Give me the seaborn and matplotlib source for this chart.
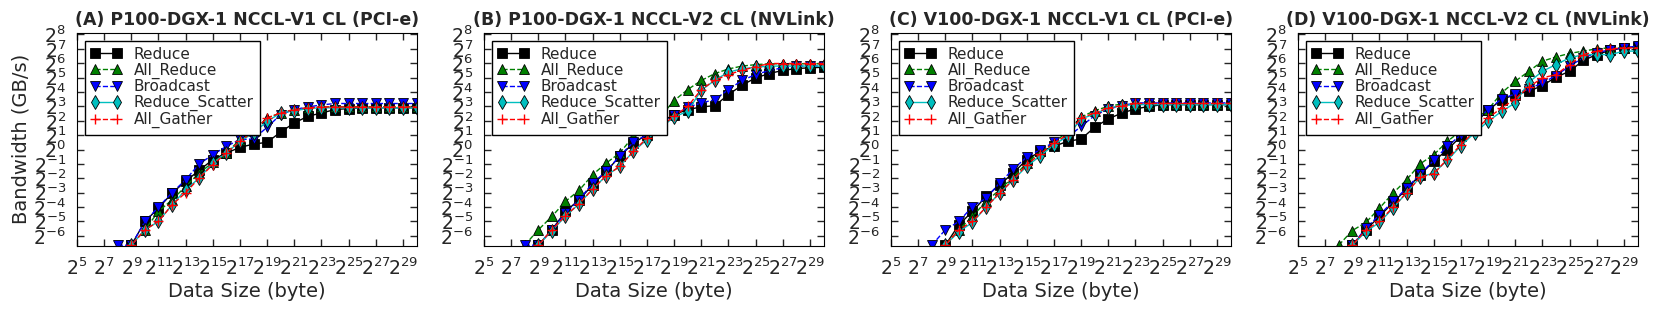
"""
NCCL collective bandwidth vs data size on DGX-1 (P100 / V100)
"""
import matplotlib
matplotlib.use("Agg")
import matplotlib.pyplot as plt
import matplotlib.ticker as mticker
import seaborn as sns

# message sizes: 2^8 .. 2^30 bytes
size_exp = list(range(8, 31))

# bandwidth as log2(GB/s)
# (A) P100-DGX-1 NCCL-V1 CL (PCI-e)
a_reduce = [-7.6, -6.65, -5.0, -4.07, -3.03, -2.2, -1.45, -0.7, -0.24, 0.15, 0.38, 0.5,
            1.22, 1.85, 2.31, 2.54, 2.78, 2.85, 2.9, 2.9, 2.9, 2.9, 2.9]
a_allreduce = [-7.6, -6.65, -5.58, -4.3, -3.5, -2.56, -1.63, -0.9, -0.24, 0.69, 1.27, 2.2,
               2.54, 2.78, 2.9, 2.96, 2.96, 2.96, 2.96, 2.96, 2.96, 2.96, 2.96]
a_broadcast = [-6.65, -6.65, -5.0, -4.0, -3.0, -2.1, -1.0, -0.36, 0.22, 0.7, 0.73, 1.55,
               2.43, 2.78, 2.96, 3.1, 3.2, 3.2, 3.2, 3.2, 3.2, 3.2, 3.2]
a_reducescatter = [-7.6, -6.65, -5.58, -5.0, -3.84, -2.8, -1.98, -0.94, -0.24, 0.57, 1.15, 1.96,
                   2.54, 2.7, 2.85, 2.9, 2.9, 2.9, 2.9, 2.9, 2.9, 2.9, 2.9]
a_allgather = [-7.6, -6.65, -5.58, -5.0, -3.84, -3.0, -1.98, -1.05, -0.24, 0.57, 1.27, 2.2,
               2.54, 2.78, 2.9, 2.96, 2.96, 2.96, 2.96, 2.96, 2.96, 2.96, 2.96]

# (B) P100-DGX-1 NCCL-V2 CL (NVLink)
b_reduce = [-7.6, -6.65, -5.58, -4.3, -3.5, -2.45, -1.52, -0.47, 0.45, 1.03, 1.9, 2.43,
            2.78, 2.96, 3.05, 3.82, 4.47, 4.98, 5.28, 5.5, 5.63, 5.68, 5.72]
b_allreduce = [-6.65, -5.58, -4.65, -3.6, -2.84, -1.75, -0.94, -0.24, 0.92, 1.5, 2.3, 3.4,
               4.17, 4.8, 5.28, 5.6, 5.8, 5.9, 5.96, 5.96, 5.96, 5.96, 5.96]
b_broadcast = [-6.65, -6.65, -5.58, -4.42, -3.5, -2.33, -1.52, -0.43, 0.5, 1.03, 1.8, 2.43,
               2.94, 3.24, 3.47, 4.17, 4.8, 5.21, 5.49, 5.68, 5.8, 5.8, 5.8]
b_reducescatter = [-7.6, -6.65, -5.63, -4.65, -3.77, -2.75, -1.82, -1.17, -0.13, 0.69, 1.5, 2.26,
                   2.66, 4.12, 4.82, 5.38, 5.61, 5.72, 5.8, 5.8, 5.8, 5.8, 5.8]
b_allgather = [-7.6, -6.65, -5.58, -4.6, -3.77, -2.75, -1.82, -1.17, -0.13, 0.8, 1.6, 2.31,
               3.0, 4.17, 4.82, 5.21, 5.51, 5.75, 5.98, 5.98, 5.98, 5.98, 5.98]

# (C) V100-DGX-1 NCCL-V1 CL (PCI-e)
c_reduce = [-7.6, -6.65, -5.23, -4.3, -3.26, -2.45, -1.63, -0.7, -0.13, 0.22, 0.57, 0.73,
            1.55, 2.13, 2.54, 2.82, 3.0, 3.12, 3.12, 3.12, 3.12, 3.12, 3.12]
c_allreduce = [-7.6, -6.65, -5.58, -4.65, -3.6, -2.8, -1.91, -0.94, -0.13, 0.45, 1.27, 2.26,
               2.7, 3.0, 3.17, 3.17, 3.17, 3.17, 3.17, 3.17, 3.17, 3.17, 3.17]
c_broadcast = [-6.65, -5.58, -5.0, -3.96, -3.38, -2.33, -1.36, -0.52, -0.01, 0.5, 0.85, 1.61,
               2.36, 2.82, 3.05, 3.24, 3.24, 3.24, 3.24, 3.24, 3.24, 3.24, 3.24]
c_reducescatter = [-7.6, -6.65, -5.7, -5.07, -4.0, -3.03, -2.1, -1.17, -0.43, 0.34, 0.92, 2.13,
                   2.47, 2.89, 3.05, 3.12, 3.12, 3.12, 3.12, 3.12, 3.12, 3.12, 3.12]
c_allgather = [-7.6, -6.65, -5.58, -5.0, -4.0, -3.03, -2.1, -1.05, -0.29, 0.45, 1.03, 2.2,
               2.54, 2.89, 3.05, 3.2, 3.2, 3.2, 3.2, 3.2, 3.2, 3.2, 3.2]

# (D) V100-DGX-1 NCCL-V2 CL (NVLink)
d_reduce = [-7.6, -6.65, -5.58, -4.65, -3.68, -2.75, -1.75, -0.82, -0.01, 0.92, 1.8, 2.73,
            3.47, 3.82, 4.05, 4.45, 5.03, 5.44, 6.19, 6.6, 6.9, 7.07, 7.14]
d_allreduce = [-6.65, -5.63, -5.07, -4.07, -3.03, -2.1, -0.99, -0.36, 0.57, 1.3, 2.1, 2.78,
               3.94, 4.75, 5.44, 6.14, 6.44, 6.68, 6.84, 7.0, 7.07, 7.07, 7.07]
d_broadcast = [-7.6, -6.65, -5.46, -4.54, -3.6, -2.68, -1.7, -0.75, 0.22, 1.03, 1.9, 2.78,
               3.52, 3.87, 4.21, 4.63, 5.14, 5.8, 6.37, 6.72, 6.95, 7.07, 7.19]
d_reducescatter = [-7.6, -6.65, -5.7, -5.07, -4.07, -3.0, -1.91, -1.63, -0.75, 0.27, 1.15, 1.96,
                   2.66, 3.24, 4.68, 5.44, 5.91, 6.37, 6.6, 6.6, 6.6, 6.84, 6.84]
d_allgather = [-7.6, -6.65, -5.58, -5.0, -4.0, -3.0, -1.91, -1.68, -0.66, 0.34, 1.27, 2.2,
               2.89, 3.52, 4.35, 4.98, 5.21, 5.91, 6.6, 6.84, 7.0, 7.07, 7.07]

series_names = ["Reduce", "All_Reduce", "Broadcast", "Reduce_Scatter", "All_Gather"]
titles = [
    "(A) P100-DGX-1 NCCL-V1 CL (PCI-e)",
    "(B) P100-DGX-1 NCCL-V2 CL (NVLink)",
    "(C) V100-DGX-1 NCCL-V1 CL (PCI-e)",
    "(D) V100-DGX-1 NCCL-V2 CL (NVLink)",
]
panels = [
    [a_reduce, a_allreduce, a_broadcast, a_reducescatter, a_allgather],
    [b_reduce, b_allreduce, b_broadcast, b_reducescatter, b_allgather],
    [c_reduce, c_allreduce, c_broadcast, c_reducescatter, c_allgather],
    [d_reduce, d_allreduce, d_broadcast, d_reducescatter, d_allgather],
]

# old-matplotlib look: colour, marker, line style per collective
styles = {
    "Reduce": dict(color="k", marker="s", linestyle="-", markeredgecolor="k"),
    "All_Reduce": dict(color="g", marker="^", linestyle="--", markeredgecolor="k"),
    "Broadcast": dict(color="b", marker="v", linestyle="--", markeredgecolor="k"),
    "Reduce_Scatter": dict(color="c", marker="d", linestyle="-", markeredgecolor="k"),
    "All_Gather": dict(color="r", marker="+", linestyle="--", markeredgecolor="r"),
}

sns.set_style("ticks", rc={
    "xtick.direction": "in", "ytick.direction": "in",
    "xtick.top": True, "ytick.right": True,
    "axes.edgecolor": "black", "axes.linewidth": 1.0,
    "lines.dashed_pattern": [6, 6], "lines.scale_dashes": False,
})
plt.rcParams["font.family"] = ["DejaVu Sans"]
plt.rcParams["mathtext.fontset"] = "dejavusans"

fig = plt.figure(figsize=(16.61, 3.2), dpi=100)
lefts = [77, 484, 891, 1298]

for i, (title, values) in enumerate(zip(titles, panels)):
    ax = fig.add_axes([lefts[i] / 1661, 74.5 / 320, 339.5 / 1661, 212.5 / 320])
    ax.set_xscale("log", base=2)
    ax.set_yscale("log", base=2)
    sizes = [2.0 ** e for e in size_exp]
    for name, vals in zip(series_names, values):
        bw = [2.0 ** v for v in vals]
        sns.lineplot(x=sizes, y=bw, ax=ax, label=name, markersize=7,
                     markeredgewidth=1.0 if name == "All_Gather" else 0.6,
                     linewidth=1.0, legend=False, **styles[name])

    ax.set_xlim(2 ** 5, 2 ** 30)
    ax.set_ylim(2 ** -6.67, 2 ** 8.1)
    ax.xaxis.set_major_locator(mticker.FixedLocator([2.0 ** k for k in range(5, 30, 2)]))
    ax.xaxis.set_minor_locator(mticker.NullLocator())
    ax.yaxis.set_major_locator(mticker.FixedLocator([2.0 ** k for k in range(-6, 9)]))
    ax.yaxis.set_minor_locator(mticker.NullLocator())
    ax.xaxis.set_major_formatter(mticker.LogFormatterMathtext(base=2))
    ax.yaxis.set_major_formatter(mticker.LogFormatterMathtext(base=2))
    ax.tick_params(which="major", length=5, width=1, labelsize=13.5)
    ax.tick_params(axis="x", pad=8.5)
    ax.tick_params(axis="y", pad=8)

    ax.set_title(title, fontsize=12.5, fontweight="bold", pad=6)
    ax.set_xlabel("Data Size (byte)", fontsize=14, labelpad=2.5)
    if i == 0:
        ax.set_ylabel("Bandwidth (GB/s)", fontsize=14, labelpad=2)
    else:
        ax.set_ylabel("")

    leg = ax.legend(loc="upper left", numpoints=2, fontsize=11, fancybox=False,
                    framealpha=1, edgecolor="k", borderpad=0.4, labelspacing=0.05,
                    handlelength=2, handletextpad=0.8, borderaxespad=0.5)
    leg.get_frame().set_linewidth(1.0)

fig.savefig("out.png", dpi=100)
